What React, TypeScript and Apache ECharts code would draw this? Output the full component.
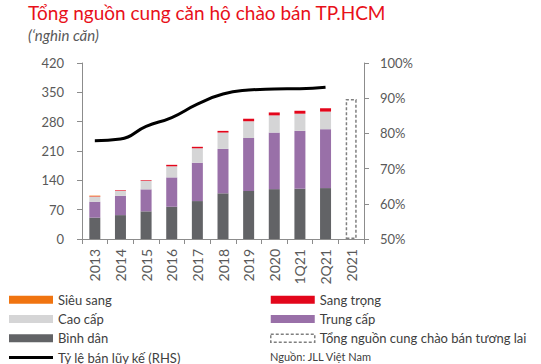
import React, { useEffect, useRef } from "react";
import * as echarts from "echarts";

const categories = ["2013", "2014", "2015", "2016", "2017", "2018", "2019", "2020", "1Q21", "2Q21", "2021"];
const binhDan = [51, 57, 66, 77, 90.5, 109, 114.5, 119, 120, 121.5, null];
const trungCap = [38, 46, 52.5, 70, 91.5, 106, 126.5, 135, 138, 140.5, null];
const caoCap = [12, 11.5, 20.5, 26.5, 34.5, 39, 40, 41, 41, 42, null];
const sangTrong = [1, 1.5, 1.5, 3.5, 3.5, 4, 6, 7, 7, 8, null];
const sieuSang = [1.5, 0, 0, 0, 0, 0, 0, 0, 0, 0, null];
const futureSupply = [null, null, null, null, null, null, null, null, null, null, 334];
const salesRate = [77.9, 78.4, 82, 84.5, 88.3, 91.2, 92.3, 92.6, 92.7, 93.1, null];
const leftTicks = { min: 0, max: 420, interval: 70 };
const rightTicks = { min: 50, max: 100, interval: 10 };

const FONT = "Lato";
const AXIS_COLOR = "#8c8c8c";
const LABEL_COLOR = "#595959";
const LEGEND_TEXT = { color: "#404040", fontSize: 13, lineHeight: 16, fontFamily: FONT };
const DASH_STYLE = { color: "rgba(255,255,255,0)", borderColor: "#7f7f7f", borderWidth: 1.5, borderType: [3, 2] };

export default function App() {
  const ref = useRef<HTMLDivElement>(null);
  useEffect(() => {
    if (!ref.current) return;
    const chart = echarts.init(ref.current, undefined, { renderer: "svg" });
    const barCommon = { type: "bar", stack: "total", barWidth: 11, yAxisIndex: 0 };
    const legendCommon = {
      orient: "vertical",
      itemWidth: 44,
      itemHeight: 8,
      itemGap: 3.3,
      icon: "rect",
      height: 120,
      padding: 0,
      textStyle: LEGEND_TEXT,
    };
    chart.setOption({
      animation: false,
      textStyle: { fontFamily: FONT },
      title: [
        {
          text: "Tổng nguồn cung căn hộ chào bán TP.HCM",
          left: 28,
          top: 3,
          padding: 0,
          textStyle: { color: "#e8101a", fontSize: 19, fontWeight: "normal", fontFamily: FONT },
        },
        {
          text: "(‘nghìn căn)",
          left: 28,
          top: 27,
          padding: 0,
          textStyle: { color: LABEL_COLOR, fontSize: 15, fontStyle: "italic", fontWeight: "normal", fontFamily: FONT },
        },
        {
          text: "Nguồn: JLL Việt Nam",
          left: 270,
          top: 351,
          padding: 0,
          textStyle: { color: "#404040", fontSize: 11, fontWeight: "normal", fontFamily: FONT },
        },
      ],
      legend: [
        { ...legendCommon, left: 9, top: 291.7, data: ["Siêu sang", "Cao cấp", "Bình dân"] },
        {
          ...legendCommon,
          left: 9,
          top: 349.5,
          itemHeight: 3,
          data: ["Tỷ lệ bán lũy kế (RHS)"],
        },
        {
          ...legendCommon,
          left: 270,
          top: 291.7,
          data: [
            "Sang trọng",
            "Trung cấp",
            { name: "Tổng nguồn cung chào bán tương lai", itemStyle: DASH_STYLE },
          ],
        },
      ],
      grid: { left: 82, right: 177, top: 63, bottom: 125, containLabel: false },
      xAxis: {
        type: "category",
        data: categories,
        axisLine: { lineStyle: { color: AXIS_COLOR } },
        axisTick: { show: true, length: 5, lineStyle: { color: AXIS_COLOR } },
        axisLabel: { rotate: 90, margin: 10, color: LABEL_COLOR, fontSize: 14, fontFamily: FONT },
      },
      yAxis: [
        {
          type: "value",
          ...leftTicks,
          position: "left",
          axisLine: { show: true, lineStyle: { color: AXIS_COLOR } },
          axisTick: { show: true, length: 5, lineStyle: { color: AXIS_COLOR } },
          splitLine: { show: false },
          axisLabel: { color: LABEL_COLOR, fontSize: 13, margin: 18, fontFamily: FONT },
        },
        {
          type: "value",
          ...rightTicks,
          position: "right",
          axisLine: { show: true, lineStyle: { color: AXIS_COLOR } },
          axisTick: { show: true, length: 5, lineStyle: { color: AXIS_COLOR } },
          splitLine: { show: false },
          axisLabel: { color: LABEL_COLOR, fontSize: 13, margin: 16, formatter: "{value}%", fontFamily: FONT },
        },
      ],
      series: [
        { ...barCommon, name: "Bình dân", data: binhDan, itemStyle: { color: "#626366" } },
        { ...barCommon, name: "Trung cấp", data: trungCap, itemStyle: { color: "#9970a8" } },
        { ...barCommon, name: "Cao cấp", data: caoCap, itemStyle: { color: "#d5d5d6" } },
        { ...barCommon, name: "Sang trọng", data: sangTrong, itemStyle: { color: "#e3061b" } },
        { ...barCommon, name: "Siêu sang", data: sieuSang, itemStyle: { color: "#f07410" } },
        {
          ...barCommon,
          name: "Tổng nguồn cung chào bán tương lai",
          data: futureSupply,
          itemStyle: DASH_STYLE,
        },
        {
          type: "line",
          name: "Tỷ lệ bán lũy kế (RHS)",
          yAxisIndex: 1,
          data: salesRate,
          smooth: true,
          symbol: "none",
          lineStyle: { color: "#000", width: 3 },
          itemStyle: { color: "#000" },
        },
      ],
    });
    return () => chart.dispose();
  }, []);
  return <div ref={ref} style={{ width: 541, height: 364, position: "absolute", left: 0, top: 0 }} />;
}
